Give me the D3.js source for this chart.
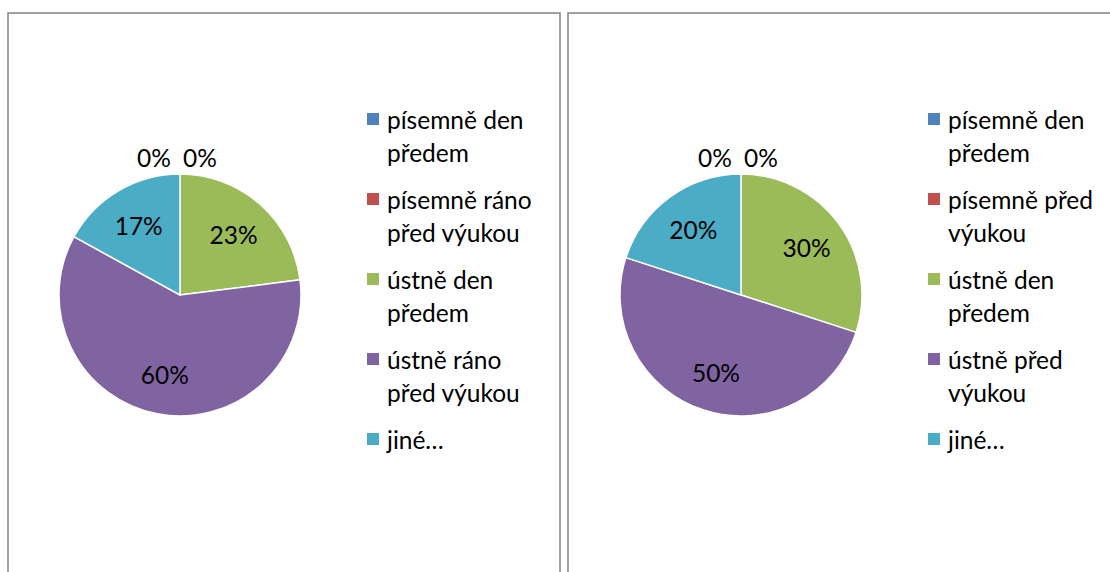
<!DOCTYPE html>
<html>
<head>
<meta charset="utf-8">
<script src="https://cdn.jsdelivr.net/npm/d3@7"></script>
<style>
  body { margin: 0; background: #fff; }
  text { font-family: Lato, "Open Sans", sans-serif; fill: #000; }
</style>
</head>
<body>
<script>
const width = 1110;
const height = 572;

// categories (legend text, already split to lines as in the original)
const leftLabels = [
  ["písemně den", "předem"],
  ["písemně ráno", "před výukou"],
  ["ústně den", "předem"],
  ["ústně ráno", "před výukou"],
  ["jiné…"]
];
const rightLabels = [
  ["písemně den", "předem"],
  ["písemně před", "výukou"],
  ["ústně den", "předem"],
  ["ústně před", "výukou"],
  ["jiné…"]
];

// series values (percent)
const leftValues = [0, 0, 23, 60, 17];
const rightValues = [0, 0, 30, 50, 20];

const colors = ["#4f81bd", "#c0504d", "#9bbb59", "#8064a2", "#4bacc6"];

const svg = d3
  .select("body")
  .append("svg")
  .attr("width", width)
  .attr("height", height);

const panels = [
  { x: 8, w: 552, cx: 180, cy: 295, legendX: 367, values: leftValues, labels: leftLabels },
  { x: 568, w: 560, cx: 741, cy: 295, legendX: 928, values: rightValues, labels: rightLabels }
];

const radius = 121;
const fontSize = 24.5;

const pie = d3.pie().sort(null).value((d) => d);
const arc = d3.arc().innerRadius(0).outerRadius(radius);
const labelArc = d3.arc().innerRadius(radius * 0.67).outerRadius(radius * 0.67);

const color = d3.scaleOrdinal().domain(d3.range(5)).range(colors);

panels.forEach((p) => {
  // chart frame
  svg
    .append("rect")
    .attr("x", p.x)
    .attr("y", 13)
    .attr("width", p.w)
    .attr("height", 620)
    .attr("fill", "#fff")
    .attr("stroke", "#8a8a8a")
    .attr("stroke-width", 1.6);

  const g = svg.append("g").attr("transform", `translate(${p.cx}, ${p.cy})`);
  const arcs = pie(p.values);

  g.selectAll("path")
    .data(arcs)
    .enter()
    .append("path")
    .attr("d", arc)
    .attr("fill", (d, i) => color(i))
    .attr("stroke", "#fff")
    .attr("stroke-width", 1.5);

  // data labels: inside for real slices, outside above the top for 0 %
  let zeroCount = 0;
  const zeros = arcs.filter((d) => d.value === 0).length;
  g.selectAll("text.lbl")
    .data(arcs)
    .enter()
    .append("text")
    .attr("class", "lbl")
    .attr("text-anchor", "middle")
    .attr("dominant-baseline", "central")
    .style("font-size", fontSize + "px")
    .attr("transform", (d) => {
      if (d.value === 0) {
        const off = (zeroCount++ - (zeros - 1) / 2) * 46;
        return `translate(${off - 3}, ${-radius - 17})`;
      }
      const [x, y] = labelArc.centroid(d);
      return `translate(${x}, ${y})`;
    })
    .text((d) => d.value + "%");

  // legend
  const legend = svg
    .append("g")
    .attr("transform", `translate(${p.legendX}, 119)`);

  const item = legend
    .selectAll("g")
    .data(p.labels)
    .enter()
    .append("g")
    .attr("transform", (d, i) => `translate(0, ${i * 80})`);

  item
    .append("rect")
    .attr("x", 0)
    .attr("y", -6)
    .attr("width", 12)
    .attr("height", 12)
    .attr("fill", (d, i) => color(i));

  item
    .append("text")
    .attr("x", 20)
    .style("font-size", fontSize + "px")
    .selectAll("tspan")
    .data((d) => d)
    .enter()
    .append("tspan")
    .attr("x", 20)
    .attr("y", (d, i) => i * 33)
    .attr("dominant-baseline", "central")
    .text((d) => d);
});
</script>
</body>
</html>
